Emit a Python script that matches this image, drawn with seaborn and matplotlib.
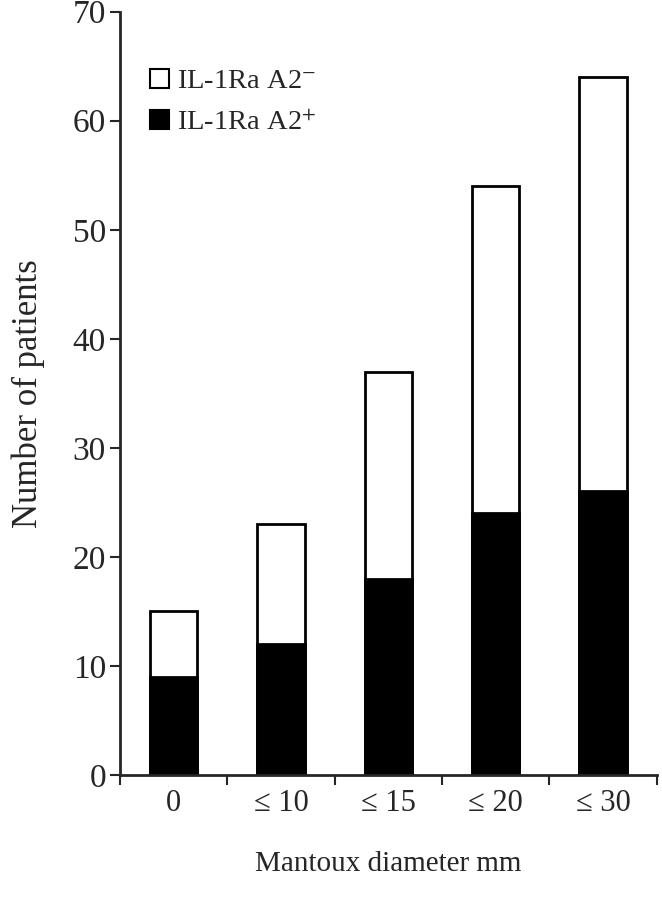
import numpy as np
import pandas as pd
import seaborn as sns
import matplotlib.pyplot as plt
from matplotlib.patches import Patch

categories = ["0", "≤ 10", "≤ 15", "≤ 20", "≤ 30"]
a2_pos = [9, 12, 18, 24, 26]
total = [15, 23, 37, 54, 64]
y_ticks = [0, 10, 20, 30, 40, 50, 60, 70]

sns.set_style("ticks")
plt.rcParams['font.family'] = ['Liberation Serif', 'DejaVu Serif']
plt.rcParams['mathtext.fontset'] = 'stix'

df = pd.DataFrame({"cat": categories, "pos": a2_pos, "total": total})

fig = plt.figure(figsize=(6.62, 8.99), dpi=100)
ax = fig.add_axes([0.181, 0.138, 0.811, 0.849])

sns.barplot(data=df, x="cat", y="total", order=categories, color="white",
            edgecolor="black", linewidth=2, width=0.44, ax=ax)
sns.barplot(data=df, x="cat", y="pos", order=categories, color="black",
            edgecolor="black", linewidth=2, width=0.44, ax=ax)

ax.set_xlim(-0.5, len(categories) - 0.5)
ax.set_ylim(0, 70)
ax.set_yticks(y_ticks)
ax.tick_params(axis='y', labelsize=24, length=7, width=1.5, direction='out', pad=3)

# tick marks between categories, labels centred under bars
ax.set_xticks(np.arange(len(categories) + 1) - 0.5)
ax.set_xticklabels([])
ax.set_xticks(np.arange(len(categories)), minor=True)
ax.set_xticklabels(categories, minor=True)
ax.tick_params(axis='x', which='major', length=7, width=1.5, direction='out')
ax.tick_params(axis='x', which='minor', length=0, labelsize=22, pad=10)

for s in ['top', 'right']:
    ax.spines[s].set_visible(False)
for s in ['left', 'bottom']:
    ax.spines[s].set_linewidth(2)

ax.set_xlabel("Mantoux diameter mm", fontsize=21, labelpad=24)
ax.set_ylabel("Number of patients", fontsize=25, labelpad=20)

handles = [Patch(facecolor='white', edgecolor='black', linewidth=1.5),
           Patch(facecolor='black', edgecolor='black', linewidth=1.5)]
ax.legend(handles, [r"IL-1Ra A2$^{-}$", r"IL-1Ra A2$^{+}$"], loc='upper left',
          bbox_to_anchor=(0.035, 0.94), frameon=False, fontsize=20.5,
          handlelength=0.65, handleheight=0.65, handletextpad=0.3, labelspacing=0.55,
          borderaxespad=0)

fig.savefig("out.png", dpi=100)
